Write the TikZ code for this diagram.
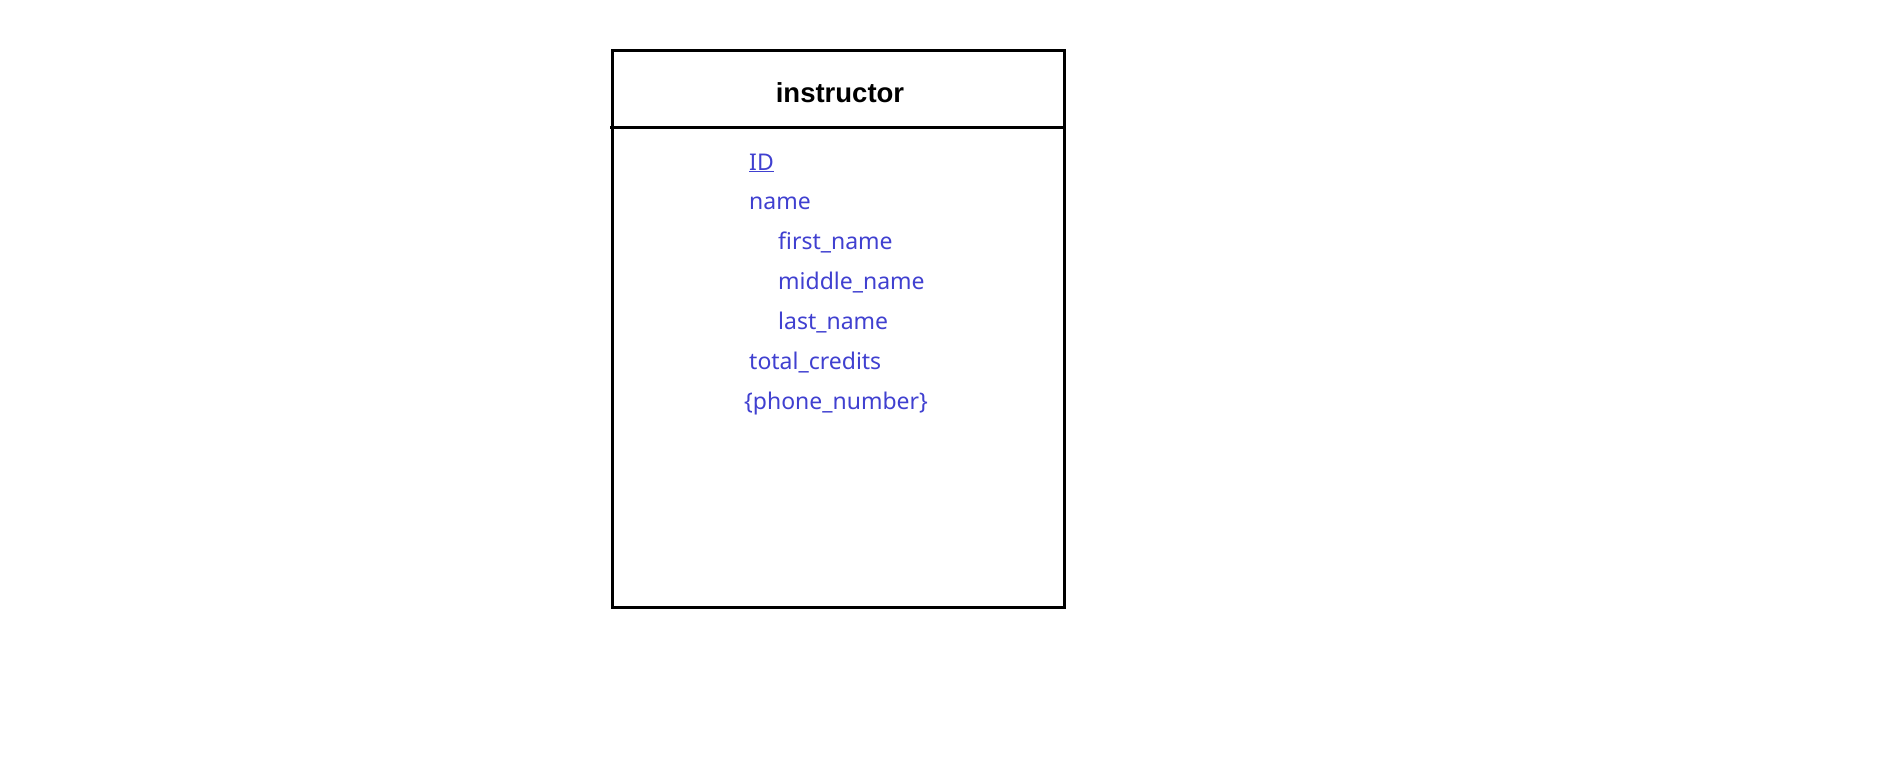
\documentclass[tikz,border=0pt]{standalone}
\usepackage{fontspec}
\setmainfont{Noto Sans}
\newfontfamily\titlefont{Liberation Sans}
\definecolor{attrblue}{RGB}{64,64,208}
\begin{document}
\begin{tikzpicture}[x=1pt,y=-1pt,
  attr/.style={anchor=base west,inner sep=0pt,text=attrblue,font=\fontsize{23}{27}\selectfont},
  ttl/.style={anchor=base,inner sep=0pt,font=\titlefont\bfseries\fontsize{27.5}{31}\selectfont}]
\useasboundingbox (0,0) rectangle (1897,773);
\coordinate (tl) at (612,51);
\coordinate (br) at (1064,607);
\draw[line width=3pt] (tl) rectangle (br);
\coordinate (hl) at (610,128);
\coordinate (hr) at (1064,128);
\draw[line width=3pt] (hl) -- (hr);
\node[ttl] (title) at (840,103) {instructor};
\node[attr] (id) at (749,170) {\underline{ID}};
\node[attr] (name) at (749,209) {name};
\node[attr] (first) at (778,249) {first\_name};
\node[attr] (middle) at (778,289) {middle\_name};
\node[attr] (last) at (778,329) {last\_name};
\node[attr] (total) at (749,369) {total\_credits};
\node[attr] (phone) at (744,409) {\{phone\_number\}};
\end{tikzpicture}
\end{document}
